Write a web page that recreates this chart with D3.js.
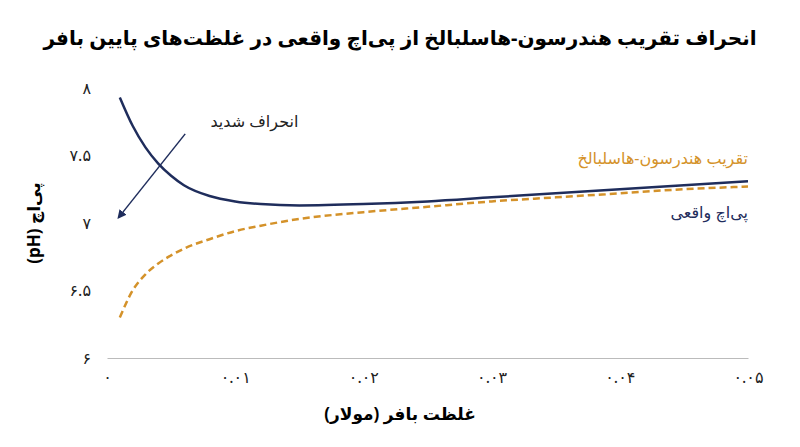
<!DOCTYPE html>
<html>
<head>
<meta charset="utf-8">
<script src="https://cdn.jsdelivr.net/npm/d3@7"></script>
<style>
  body { margin: 0; background: #fff; }
  text { font-family: "Noto Sans", "DejaVu Sans", sans-serif; }
</style>
</head>
<body>
<div id="wrapper"></div>
<script>
const bufferConc = [0.001, 0.002, 0.003, 0.004, 0.005, 0.006, 0.008, 0.01, 0.012, 0.015, 0.02, 0.025, 0.03, 0.035, 0.04, 0.045, 0.05];
const actualPH = [7.93, 7.72, 7.56, 7.44, 7.35, 7.28, 7.20, 7.16, 7.14, 7.13, 7.14, 7.16, 7.19, 7.22, 7.25, 7.28, 7.31];
const hhPH = [6.30, 6.50, 6.62, 6.70, 6.76, 6.81, 6.88, 6.94, 6.98, 7.03, 7.08, 7.12, 7.16, 7.19, 7.22, 7.25, 7.27];
const xTicks = [0, 0.01, 0.02, 0.03, 0.04, 0.05];
const xTickLabels = ["۰", "۰.۰۱", "۰.۰۲", "۰.۰۳", "۰.۰۴", "۰.۰۵"];
const yTicks = [6, 6.5, 7, 7.5, 8];
const yTickLabels = ["۶", "۶.۵", "۷", "۷.۵", "۸"];

const dimensions = {
  width: 800,
  height: 447,
  margin: { top: 88, right: 52, bottom: 89, left: 107 },
};
dimensions.boundedWidth = dimensions.width - dimensions.margin.left - dimensions.margin.right;
dimensions.boundedHeight = dimensions.height - dimensions.margin.top - dimensions.margin.bottom;

const svg = d3.select("#wrapper").append("svg")
  .attr("width", dimensions.width)
  .attr("height", dimensions.height);

svg.append("text")
  .attr("x", 400).attr("y", 45)
  .attr("text-anchor", "middle")
  .attr("direction", "rtl")
  .style("font-size", "20px").style("font-weight", "bold")
  .text("انحراف تقریب هندرسون-هاسلبالخ از پی‌اچ واقعی در غلظت‌های پایین بافر");

const bounds = svg.append("g")
  .attr("transform", `translate(${dimensions.margin.left},${dimensions.margin.top})`);

const xScale = d3.scaleLinear().domain([0, 0.05]).range([0, dimensions.boundedWidth]);
const yScale = d3.scaleLinear().domain([6, 8]).range([dimensions.boundedHeight, 0]);

// x axis
const xAxis = bounds.append("g")
  .attr("transform", `translate(0,${dimensions.boundedHeight})`)
  .call(d3.axisBottom(xScale).tickValues(xTicks).tickSize(0).tickPadding(14)
    .tickFormat((d, i) => xTickLabels[i]));
xAxis.select(".domain").attr("stroke", "#bbb");
xAxis.selectAll("text").style("font-size", "16px").attr("fill", "#222");

// y axis
const yAxis = bounds.append("g")
  .call(d3.axisLeft(yScale).tickValues(yTicks).tickSize(0).tickPadding(16)
    .tickFormat((d, i) => yTickLabels[i]));
yAxis.select(".domain").remove();
yAxis.selectAll("text").style("font-size", "16px").attr("fill", "#222");

svg.append("text")
  .attr("x", 400).attr("y", 420)
  .attr("text-anchor", "middle").attr("direction", "rtl")
  .style("font-size", "17px").style("font-weight", "bold")
  .text("غلظت بافر (مولار)");

svg.append("text")
  .attr("transform", "translate(40,223) rotate(-90)")
  .attr("text-anchor", "middle").attr("direction", "rtl")
  .style("font-size", "17px").style("font-weight", "bold")
  .text("پی‌اچ (pH)");

const line = (vals) => d3.line()
  .x((d, i) => xScale(bufferConc[i]))
  .y((d) => yScale(d))
  .curve(d3.curveMonotoneX)(vals);

bounds.append("path")
  .attr("d", line(hhPH))
  .attr("fill", "none").attr("stroke", "#d4922a")
  .attr("stroke-width", 2.5).attr("stroke-dasharray", "7,4");

bounds.append("path")
  .attr("d", line(actualPH))
  .attr("fill", "none").attr("stroke", "#1f2d5c")
  .attr("stroke-width", 2.5);

// labels (rtl: "start" anchors at the right edge)
bounds.append("text")
  .attr("x", xScale(0.05)).attr("y", yScale(7.44))
  .attr("text-anchor", "start").attr("direction", "rtl")
  .attr("fill", "#d4922a").style("font-size", "16px")
  .text("تقریب هندرسون-هاسلبالخ");
bounds.append("text")
  .attr("x", xScale(0.05)).attr("y", yScale(7.04))
  .attr("text-anchor", "start").attr("direction", "rtl")
  .attr("fill", "#1f2d5c").style("font-size", "16px")
  .text("پی‌اچ واقعی");

// annotation
svg.append("defs").append("marker")
  .attr("id", "arrow").attr("viewBox", "0 0 10 10")
  .attr("refX", 8).attr("refY", 5)
  .attr("markerWidth", 6).attr("markerHeight", 6)
  .attr("orient", "auto")
  .append("path").attr("d", "M0,0 L10,5 L0,10 z").attr("fill", "#1f2d5c");

bounds.append("line")
  .attr("x1", xScale(0.0061)).attr("y1", yScale(7.66))
  .attr("x2", xScale(0.0009)).attr("y2", yScale(7.04))
  .attr("stroke", "#1f2d5c").attr("stroke-width", 1.5)
  .attr("marker-end", "url(#arrow)");

bounds.append("text")
  .attr("x", xScale(0.0115)).attr("y", yScale(7.71))
  .attr("text-anchor", "middle").attr("direction", "rtl")
  .attr("fill", "#222").style("font-size", "16px")
  .text("انحراف شدید");
</script>
</body>
</html>
